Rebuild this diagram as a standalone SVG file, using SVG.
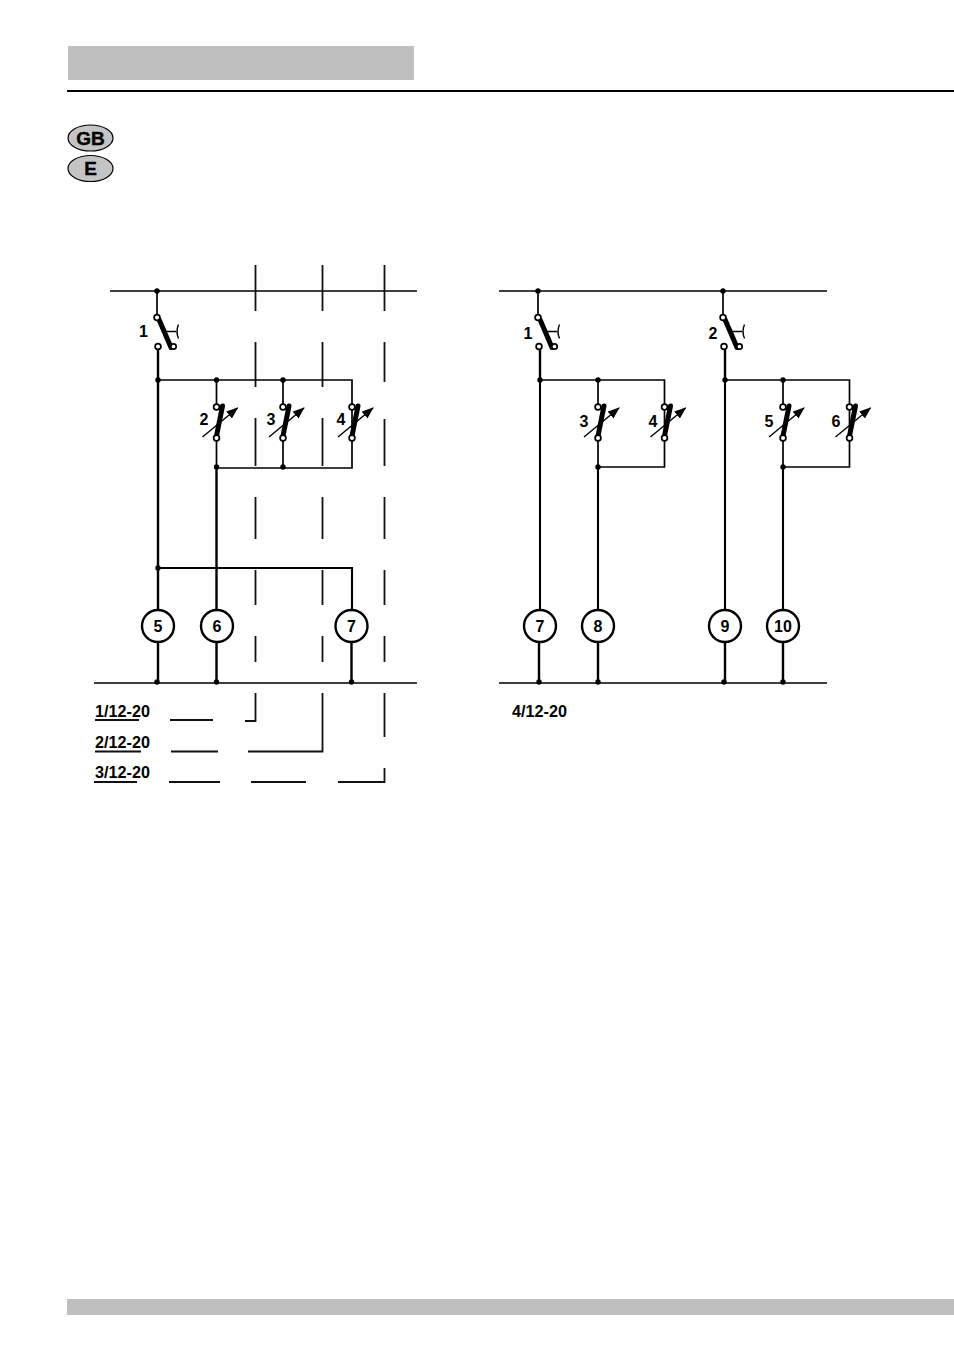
<svg xmlns="http://www.w3.org/2000/svg" width="954" height="1351" viewBox="0 0 954 1351">
<style>
text{font-family:"Liberation Sans",Arial,sans-serif;font-weight:700;fill:#000}
.l{font-size:16.200px}
.n{font-size:16px;text-anchor:middle}
.w{fill:none;stroke:#000;stroke-width:1.7}
.m{fill:none;stroke:#000;stroke-width:2.100}
.t{fill:none;stroke:#000;stroke-width:2.400}
.b{fill:none;stroke:#000;stroke-width:1.400}
.d{fill:none;stroke:#111;stroke-width:1.800}
.o{fill:#fff;stroke:#000;stroke-width:1.700}
.c{fill:#fff;stroke:#000;stroke-width:2.400}
.blade{stroke:#000;stroke-width:5;stroke-linecap:round;fill:none}
.g{fill:#bfbfbf}
.oval{fill:#c4c4c4;stroke:#000;stroke-width:1.200}
.ot{font-size:19px;text-anchor:middle;stroke:#000;stroke-width:.4}
</style>
<defs>
<marker id="ah" markerWidth="12" markerHeight="10" refX="11" refY="4.500" orient="auto" markerUnits="userSpaceOnUse"><path d="M0 0L12 4.500L0 9Z" fill="#000"/></marker>
<circle id="dot" r="2.700" fill="#000"/>
<g id="main">
<path class="blade" d="M2 2L14 30"/>
<path class="b" d="M8 14H19M21.500 7Q18.500 14 21.500 21"/>
<circle class="o" cx="0" cy="0" r="2.900"/>
<circle class="o" cx="1" cy="29" r="2.900"/>
<circle class="o" cx="16.500" cy="29" r="2.700"/>
</g>
<g id="var">
<path class="blade" d="M6 -1L0 29"/>
<path class="b" d="M-14 30L21 1" marker-end="url(#ah)"/>
<circle class="o" cx="0" cy="0" r="2.900"/>
<circle class="o" cx="0" cy="31" r="2.900"/>
</g>
</defs>
<rect id="header-bar" class="g" x="68" y="46" width="346" height="34"/>
<path id="header-rule" d="M67 91H954" stroke="#000" stroke-width="2" fill="none"/>
<rect id="footer-bar" class="g" x="67" y="1299" width="887" height="16"/>
<g id="badge-gb"><ellipse class="oval" cx="90.500" cy="138" rx="22.500" ry="13"/><text class="ot" x="90.500" y="144.500">GB</text></g>
<g id="badge-e"><ellipse class="oval" cx="90.500" cy="168.500" rx="22.500" ry="13"/><text class="ot" x="90.500" y="175">E</text></g>

<g id="connectors">
<path class="w" d="M110 291H417M94 683H417M499 291H827M499 683H827"/>
<path class="d" d="M255.500 265V311M255.500 342V387M255.500 418V466M255.500 497V539M255.500 570V605M255.500 636V662M255.500 693V721H245"/>
<path class="d" d="M322.500 265V311M322.500 342V387M322.500 418V466M322.500 497V539M322.500 570V605M322.500 636V662M322.500 693V751.500H248"/>
<path class="d" d="M384.500 265V311M384.500 342V382M384.500 419V466M384.500 497V539M384.500 570V605M384.500 636V662M384.500 693V737M384.500 768V782H338"/>
<path class="d" d="M170 720H213M171 751.500H218M169 782H220M251 782H306"/>
<path class="d" d="M95 720H139M95 751.500H141M94 782H137"/>
<path class="w" d="M157 291V316"/>
<path class="t" d="M158 349V610M158 642V683M216.500 468V610M216.500 642V683M351.500 642V683"/>
<path class="m" d="M158 568H352V610"/>
<path class="w" d="M158 380H352V468H216.500M216.500 380V405M216.500 440V468M283 380V405M283 440V468M352 380V405M352 440V468"/>
<path class="w" d="M538 291V316M723 291V316"/>
<path class="t" d="M540 349V380M725 349V380"/>
<path class="m" d="M540 380V610M725 380V610M598 467V610M783 467V610"/>
<path class="w" d="M540 380H664.500V467H598M598 380V405M598 440V467M664.500 380V405M664.500 440V467"/>
<path class="t" d="M539 642V683M598 642V683M725 642V683M783 642V683"/>
<path class="w" d="M725 380H849.500V467H783M783 380V405M783 440V467M849.500 380V405M849.500 440V467"/>
<use href="#dot" x="157" y="291"/><use href="#dot" x="158" y="380"/><use href="#dot" x="216.500" y="380"/><use href="#dot" x="283" y="380"/><use href="#dot" x="216.500" y="467"/><use href="#dot" x="283" y="467"/><use href="#dot" x="158" y="568"/>
<use href="#dot" x="157" y="682"/><use href="#dot" x="216.500" y="682"/><use href="#dot" x="351.500" y="682"/>
<use href="#dot" x="538" y="291"/><use href="#dot" x="723" y="291"/><use href="#dot" x="540" y="380"/><use href="#dot" x="598" y="380"/><use href="#dot" x="598" y="467"/><use href="#dot" x="725" y="380"/><use href="#dot" x="783" y="380"/><use href="#dot" x="783" y="467"/>
<use href="#dot" x="539" y="682"/><use href="#dot" x="598" y="682"/><use href="#dot" x="724" y="682"/><use href="#dot" x="783" y="682"/>
</g>

<g id="sw-l1"><use href="#main" x="157" y="317.500"/><text class="n" x="143.500" y="337">1</text></g>
<g id="sw-l2"><use href="#var" x="216.500" y="407"/><text class="n" x="204" y="425">2</text></g>
<g id="sw-l3"><use href="#var" x="283" y="407"/><text class="n" x="271" y="425">3</text></g>
<g id="sw-l4"><use href="#var" x="352" y="407"/><text class="n" x="341" y="425">4</text></g>
<g id="sw-r1"><use href="#main" x="538" y="317.500"/><text class="n" x="528" y="339">1</text></g>
<g id="sw-r2"><use href="#main" x="723" y="317.500"/><text class="n" x="713" y="339">2</text></g>
<g id="sw-r3"><use href="#var" x="598" y="407"/><text class="n" x="584" y="427">3</text></g>
<g id="sw-r4"><use href="#var" x="664.500" y="407"/><text class="n" x="653" y="427">4</text></g>
<g id="sw-r5"><use href="#var" x="783" y="407"/><text class="n" x="769" y="427">5</text></g>
<g id="sw-r6"><use href="#var" x="849.500" y="407"/><text class="n" x="836" y="427">6</text></g>

<g id="m-l5"><circle class="c" cx="158" cy="626" r="16"/><text class="n" x="158" y="632">5</text></g>
<g id="m-l6"><circle class="c" cx="217" cy="626" r="16"/><text class="n" x="217" y="632">6</text></g>
<g id="m-l7"><circle class="c" cx="351.500" cy="626" r="16"/><text class="n" x="351.500" y="632">7</text></g>
<g id="m-r7"><circle class="c" cx="540" cy="626" r="16"/><text class="n" x="540" y="632">7</text></g>
<g id="m-r8"><circle class="c" cx="598" cy="626" r="16"/><text class="n" x="598" y="632">8</text></g>
<g id="m-r9"><circle class="c" cx="725" cy="626" r="16"/><text class="n" x="725" y="632">9</text></g>
<g id="m-r10"><circle class="c" cx="783" cy="626" r="16"/><text class="n" x="783" y="632">10</text></g>

<text class="l" x="95" y="717">1/12-20</text>
<text class="l" x="95" y="748">2/12-20</text>
<text class="l" x="95" y="778">3/12-20</text>
<text class="l" x="512" y="717">4/12-20</text>
</svg>
